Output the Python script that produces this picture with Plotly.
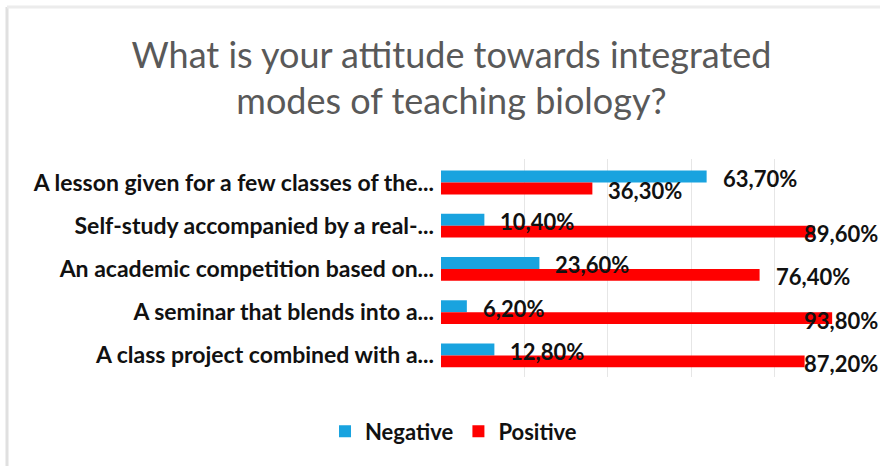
import plotly.graph_objects as go

categories = [
    "A lesson given for a few classes of the...",
    "Self-study accompanied by a real-...",
    "An academic competition based on...",
    "A seminar that blends into a...",
    "A class project combined with a...",
]
negative = [63.7, 10.4, 23.6, 6.2, 12.8]
positive = [36.3, 89.6, 76.4, 93.8, 87.2]

BLUE = "#19a3df"
RED = "#ff0000"
FONT = "Lato"
LABEL_FONT = dict(family=FONT, size=22, color="#111111", weight="bold")

fig = go.Figure()
series = [("Negative", negative, BLUE, 4), ("Positive", positive, RED, -8)]
for name, vals, col, yshift in series:
    fig.add_trace(go.Bar(
        y=categories, x=vals, name=name, orientation="h",
        marker=dict(color=col, line=dict(width=0)),
    ))
    # data labels placed outside the bar end; kept inside the chart like Excel does
    for cat, v in zip(categories, vals):
        txt = f"{v:.2f}%".replace(".", ",")
        if v > 80:
            fig.add_annotation(x=1, xref="paper", y=cat, yref="y", text=txt,
                               xanchor="right", xshift=22, yshift=yshift,
                               showarrow=False, font=LABEL_FONT)
        else:
            fig.add_annotation(x=v, xref="x", y=cat, yref="y", text=txt,
                               xanchor="left", xshift=14, yshift=yshift,
                               showarrow=False, font=LABEL_FONT)

fig.update_layout(
    width=880, height=466,
    paper_bgcolor="white", plot_bgcolor="white",
    barmode="group", bargap=0.45, bargroupgap=0,
    margin=dict(l=441, r=22, t=159, b=89),
    font=dict(family=FONT, color="#111111"),
    title=dict(
        text="What is your attitude towards integrated<br>modes of teaching biology?",
        x=0.513, xanchor="center", y=0.855, yanchor="top", yref="container",
        font=dict(family=FONT, size=36, color="#595959"),
    ),
    xaxis=dict(range=[0, 100], dtick=20, showticklabels=False, showgrid=True,
               gridcolor="#e6e6e6", gridwidth=1, zeroline=False, showline=False),
    yaxis=dict(autorange="reversed", showline=False, ticks="", ticklabelstandoff=6,
               tickfont=dict(family=FONT, size=23, color="#111111", weight="bold")),
    legend=dict(orientation="h", x=0.03, xanchor="center", y=-0.25, yanchor="middle",
                font=dict(family=FONT, size=22, color="#111111", weight="bold"),
                itemwidth=30),
)
# light frame at left and top
fig.add_shape(type="line", xref="paper", yref="paper",
              x0=(7 - 441) / 417, x1=(7 - 441) / 417, y0=(377 - 466) / 218, y1=(377 - 7) / 218,
              line=dict(color="#e0e0e0", width=3))
fig.add_shape(type="line", xref="paper", yref="paper",
              x0=(7 - 441) / 417, x1=(880 - 441) / 417, y0=(377 - 7) / 218, y1=(377 - 7) / 218,
              line=dict(color="#ececec", width=3))

fig.write_html("out.html", config={"displayModeBar": False},
               post_script="document.body.style.margin='0';")
